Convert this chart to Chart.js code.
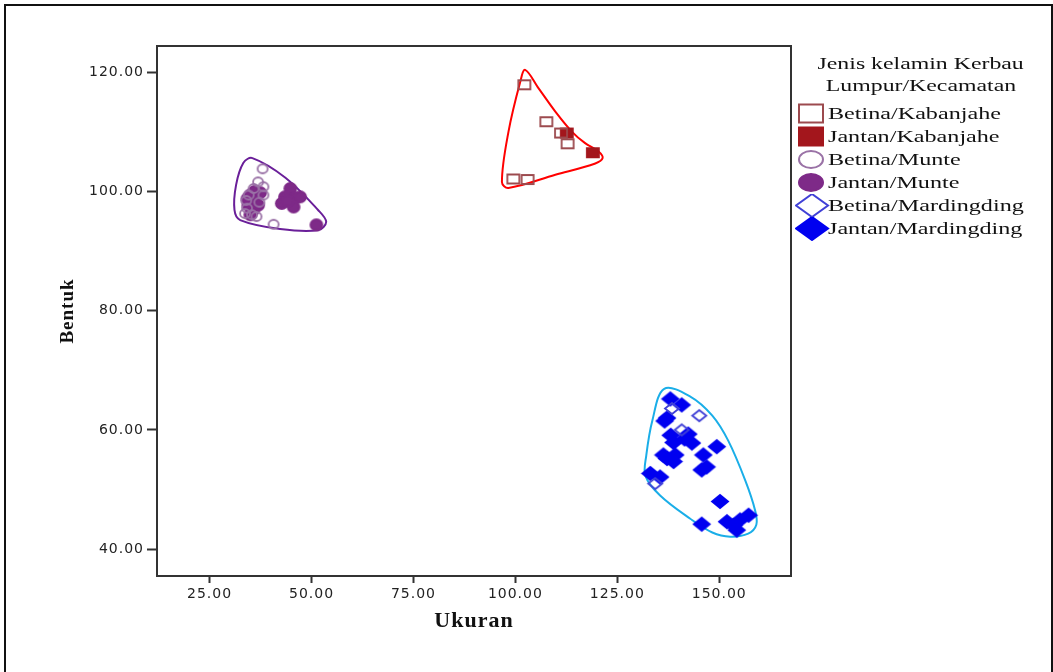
<!DOCTYPE html>
<html>
<head>
<meta charset="utf-8">
<script src="https://cdn.jsdelivr.net/npm/chart.js@4.4.0/dist/chart.umd.min.js"></script>
<style>
  body { margin: 0; background: #fff; overflow: hidden; }
  #frame { position: absolute; left: 4px; top: 4px; width: 1045px; height: 700px; border: 2px solid #111; }
  #chart { position: absolute; left: 0; top: 0; }
  #legend { position: absolute; left: 795px; top: 53px; width: 252px; font-family: "Liberation Serif", "Times New Roman", serif; font-size: 17px; color: #111; }
  #legend .title { text-align: center; line-height: 22px; }
  #legend .title span { display: inline-block; transform: scaleX(1.4); transform-origin: center; }
  #legend ul { list-style: none; margin: 5px 0 0 0; padding: 0; }
  #legend li { height: 23px; line-height: 23px; position: relative; padding-left: 33px; white-space: nowrap; }
  #legend li span { display: inline-block; transform: scaleX(1.42); transform-origin: left center; }
  #legend svg { position: absolute; left: 0; top: 0; }
</style>
</head>
<body>
<div id="frame"></div>
<canvas id="chart" width="1053" height="672"></canvas>
<div id="legend"></div>
<script>
// ticks
const xTicks = [25, 50, 75, 100, 125, 150];
const yTicks = [40, 60, 80, 100, 120];

// Ukuran (x) / Bentuk (y) per group
const betinaKabanjaheX = [102.2, 107.6, 111.2, 112.8, 99.5, 103.0];
const betinaKabanjaheY = [117.9, 111.7, 109.8, 108.0, 102.1, 102.0];
const jantanKabanjaheX = [112.6, 119.0];
const jantanKabanjaheY = [109.8, 106.5];
const betinaMunteX = [38.0, 36.9, 38.2, 35.8, 34.6, 38.2, 37.2, 34.2, 33.7, 35.4, 36.5, 40.7, 34.0];
const betinaMunteY = [103.8, 101.6, 100.8, 100.5, 99.4, 99.4, 98.2, 97.2, 96.3, 96.1, 95.8, 94.5, 98.5];
const jantanMunteX = [35.0, 36.2, 34.5, 35.7, 36.9, 35.0, 37.4, 34.3, 36.0, 44.8, 43.5, 46.0, 47.2, 42.7, 45.6, 44.2, 51.2];
const jantanMunteY = [99.4, 98.6, 97.7, 96.9, 97.7, 96.1, 99.8, 98.8, 100.0, 100.5, 99.1, 98.9, 99.1, 98.0, 97.4, 98.4, 94.4];
const betinaMardingdingX = [138.4, 145.1, 140.8, 134.3];
const betinaMardingdingY = [63.6, 62.4, 60.0, 51.0];
const jantanMardingdingX = [138.0, 140.8, 137.2, 136.6, 138.1, 141.5, 142.4, 143.3, 138.8, 149.4, 136.3, 139.2, 146.1, 137.2, 138.8, 146.9, 145.7, 133.1, 135.5, 150.2, 145.7, 151.9, 153.5, 155.1, 157.2, 154.3];
const jantanMardingdingY = [65.2, 64.2, 62.0, 61.5, 59.1, 58.5, 59.3, 57.8, 57.9, 57.2, 55.8, 55.8, 55.8, 55.2, 54.7, 53.8, 53.3, 52.7, 52.1, 48.0, 44.2, 44.6, 44.0, 44.9, 45.7, 43.2];

// hull outlines (kecamatan)
const munteHullX = [35.5, 43.6, 51.6, 53.6, 51.6, 42.3, 32.5, 31.1, 31.5, 33.3];
const munteHullY = [105.6, 102.3, 96.9, 94.9, 93.5, 93.7, 95.2, 96.9, 101.1, 104.8];
const kabanjaheHullX = [102.4, 105.7, 109.8, 113.9, 117.1, 120.4, 121.4, 119.6, 109.8, 98.3, 96.7, 98.3, 101.2];
const kabanjaheHullY = [120.4, 117.3, 113.4, 110.0, 108.1, 106.7, 105.6, 104.7, 102.8, 100.6, 101.6, 110.0, 118.4];
const mardingdingHullX = [136.5, 142.9, 148.3, 152.2, 156.4, 158.8, 159.1, 157.1, 152.7, 148.3, 142.9, 135.5, 131.9, 132.1, 133.6];
const mardingdingHullY = [66.9, 65.6, 62.4, 58.2, 51.5, 46.5, 44.1, 42.6, 42.1, 42.8, 45.1, 49.0, 52.3, 55.7, 61.6];

const pts = (xs, ys) => xs.map((x, i) => ({ x: x, y: ys[i] }));

// closed loop: pad with neighbours so the spline is smooth at the seam
function loop(xs, ys) {
  const p = pts(xs, ys);
  const n = p.length;
  return [p[n - 1], ...p, p[0], p[1]];
}

function markerPath(g, shape, w, h, ox, oy) {
  g.beginPath();
  if (shape === 'rect') g.rect(ox, oy, w, h);
  else if (shape === 'circle') g.ellipse(ox + w / 2, oy + h / 2, w / 2, h / 2, 0, 0, Math.PI * 2);
  else {
    g.moveTo(ox + w / 2, oy); g.lineTo(ox + w, oy + h / 2);
    g.lineTo(ox + w / 2, oy + h); g.lineTo(ox, oy + h / 2); g.closePath();
  }
}

function marker(shape, w, h, fill, stroke) {
  const c = document.createElement('canvas');
  c.width = w + 4; c.height = h + 4;
  const g = c.getContext('2d');
  markerPath(g, shape, w, h, 2, 2);
  if (fill) { g.fillStyle = fill; g.fill(); }
  if (stroke) { g.strokeStyle = stroke; g.lineWidth = 1.8; g.stroke(); }
  return c;
}

const series = [
  { label: 'Betina/Kabanjahe', shape: 'rect', fill: null, stroke: '#9c4a4e', data: pts(betinaKabanjaheX, betinaKabanjaheY), size: [12, 9] },
  { label: 'Jantan/Kabanjahe', shape: 'rect', fill: '#a3161c', stroke: '#a3161c', data: pts(jantanKabanjaheX, jantanKabanjaheY), size: [12, 9] },
  { label: 'Betina/Munte', shape: 'circle', fill: null, stroke: '#9a72a6', data: pts(betinaMunteX, betinaMunteY), size: [10, 9] },
  { label: 'Jantan/Munte', shape: 'circle', fill: '#7e2a88', stroke: '#7e2a88', data: pts(jantanMunteX, jantanMunteY), size: [12, 11] },
  { label: 'Betina/Mardingding', shape: 'diamond', fill: null, stroke: '#4040d6', data: pts(betinaMardingdingX, betinaMardingdingY), size: [14, 11] },
  { label: 'Jantan/Mardingding', shape: 'diamond', fill: '#0000f0', stroke: '#0000f0', data: pts(jantanMardingdingX, jantanMardingdingY), size: [16, 13] }
];

const hulls = [
  { data: loop(munteHullX, munteHullY), color: '#6a1f99' },
  { data: loop(kabanjaheHullX, kabanjaheHullY), color: '#ff0000' },
  { data: loop(mardingdingHullX, mardingdingHullY), color: '#1aaee8' }
];

const datasets = series.map(s => ({
  label: s.label,
  data: s.data,
  pointStyle: marker(s.shape, s.size[0], s.size[1], s.fill, s.stroke),
  pointRadius: 6,
  showLine: false
})).concat(hulls.map(h => ({
  label: '',
  data: h.data,
  showLine: true,
  tension: 0.35,
  borderColor: h.color,
  borderWidth: 2,
  pointRadius: 0,
  fill: false,
  segment: {
    borderColor: ctx => (ctx.p0DataIndex === 0 || ctx.p1DataIndex === h.data.length - 1) ? 'rgba(0,0,0,0)' : undefined
  }
})));

const boxPlugin = {
  id: 'box',
  beforeLayout(chart) { chart.ctx.letterSpacing = '1px'; },
  beforeDraw(chart) { chart.ctx.letterSpacing = '1px'; },
  beforeDatasetsDraw(chart) {
    const { ctx, chartArea: a } = chart;
    ctx.save();
    ctx.strokeStyle = '#333';
    ctx.lineWidth = 2;
    ctx.strokeRect(a.left, a.top, a.right - a.left, a.bottom - a.top);
    ctx.restore();
  }
};

const tickFont = { family: 'DejaVu Sans', size: 14 };

new Chart(document.getElementById('chart'), {
  type: 'scatter',
  data: { datasets: datasets },
  options: {
    responsive: false,
    devicePixelRatio: 1,
    animation: false,
    events: [],
    layout: { padding: { left: 57, top: 46, right: 262, bottom: 37 } },
    plugins: { legend: { display: false }, tooltip: { enabled: false } },
    scales: {
      x: {
        type: 'linear', min: 12.1, max: 167.6,
        afterBuildTicks: s => { s.ticks = xTicks.map(v => ({ value: v })); },
        afterFit: s => { s.height = 59; },
        ticks: { callback: v => v.toFixed(2), font: tickFont, color: '#222', padding: 3, maxRotation: 0 },
        grid: { drawOnChartArea: false, tickLength: 7, tickWidth: 2, color: '#333' },
        border: { display: true, color: '#333', width: 2 },
        title: { display: true, text: 'Ukuran', padding: 0, color: '#111',
          font: { family: 'Liberation Serif', size: 22, weight: 'bold' } }
      },
      y: {
        type: 'linear', min: 35.5, max: 124.4,
        afterBuildTicks: s => { s.ticks = yTicks.map(v => ({ value: v })); },
        afterFit: s => { s.width = 100; },
        ticks: { callback: v => v.toFixed(2), font: tickFont, color: '#222', padding: 3 },
        grid: { drawOnChartArea: false, tickLength: 10, tickWidth: 2, color: '#333' },
        border: { display: true, color: '#333', width: 2 },
        title: { display: true, text: 'Bentuk', padding: 0, color: '#111',
          font: { family: 'Liberation Serif', size: 19, weight: 'bold' } }
      }
    }
  },
  plugins: [boxPlugin]
});

// html legend
const legendEl = document.getElementById('legend');
const iconSize = { rect: [24, 18], circle: [24, 17], diamond: [32, 23] };
let html = '<div class="title"><span>Jenis kelamin Kerbau</span><br><span>Lumpur/Kecamatan</span></div><ul>';
series.forEach(s => {
  const [w, h] = iconSize[s.shape];
  const ox = s.shape === 'diamond' ? 1 : 4, oy = (23 - h) / 2;
  let shape;
  const paint = `fill="${s.fill || '#fff'}" stroke="${s.stroke}" stroke-width="2"`;
  if (s.shape === 'rect') shape = `<rect x="${ox}" y="${oy}" width="${w}" height="${h}" ${paint}/>`;
  else if (s.shape === 'circle') shape = `<ellipse cx="${ox + w / 2}" cy="${oy + h / 2}" rx="${w / 2}" ry="${h / 2}" ${paint}/>`;
  else shape = `<polygon points="${ox + w / 2},${oy} ${ox + w},${oy + h / 2} ${ox + w / 2},${oy + h} ${ox},${oy + h / 2}" ${paint}/>`;
  html += `<li><svg width="36" height="24">${shape}</svg><span>${s.label}</span></li>`;
});
legendEl.innerHTML = html + '</ul>';
</script>
</body>
</html>
